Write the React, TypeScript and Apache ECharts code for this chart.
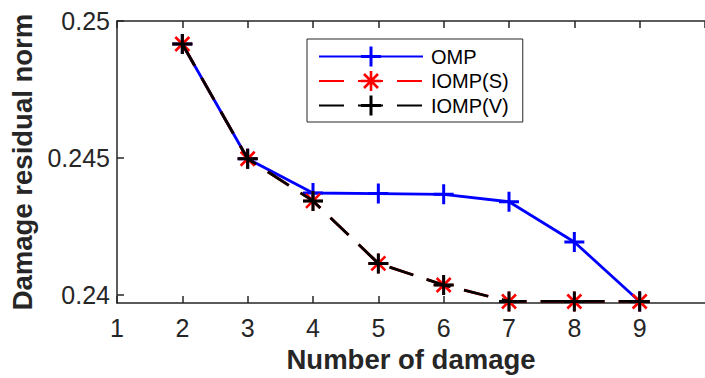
import React, { useEffect, useRef } from 'react';
import * as echarts from 'echarts';

// ---- data ----
const damageCounts = [2, 3, 4, 5, 6, 7, 8, 9];
const ompValues = [0.24916, 0.24497, 0.24372, 0.2437, 0.24367, 0.2434, 0.24193, 0.23976];
const iompSValues = [0.24916, 0.24497, 0.24343, 0.24115, 0.24036, 0.23976, 0.23976, 0.23976];
const iompVValues = [0.24916, 0.24497, 0.24343, 0.24115, 0.24036, 0.23976, 0.23976, 0.23976];
const seriesNames = ['OMP', 'IOMP(S)', 'IOMP(V)'];
const xTickLabels = ['1', '2', '3', '4', '5', '6', '7', '8', '9'];
const yTickValues = [0.24, 0.245, 0.25];
const yTickLabels = ['0.24', '0.245', '0.25'];

const PLUS = 'path://M8.5,0H11.5V8.5H20V11.5H11.5V20H8.5V11.5H0V8.5H8.5Z';
const STAR =
  'path://M0,8.7H20V11.3H0Z M8.7,0H11.3V20H8.7Z M2.081,3.919L3.919,2.081L17.919,16.081L16.081,17.919Z M2.081,16.081L16.081,2.081L17.919,3.919L3.919,17.919Z';

const AXIS = '#262626';
const FONT = 'Liberation Sans, Arial, sans-serif';

export default function App() {
  const ref = useRef<HTMLDivElement>(null);
  useEffect(() => {
    const chart = echarts.init(ref.current!, null, { renderer: 'svg' });
    const pairs = (vals: number[]) => damageCounts.map((x, i) => [x, vals[i]]);
    const dash = [25, 14];
    const option: any = {
      animation: false,
      backgroundColor: '#fff',
      grid: { left: 117, top: 21, width: 594, height: 285 },
      legend: {
        orient: 'vertical',
        left: 307,
        top: 39,
        itemWidth: 104,
        itemHeight: 25,
        itemGap: 4.5,
        padding: [7.5, 14, 6.5, 11],
        borderColor: AXIS,
        borderWidth: 1,
        backgroundColor: '#fff',
        textStyle: { fontSize: 20, fontFamily: FONT, color: '#000', padding: [0, 0, 0, 3] },
        data: seriesNames,
      },
      xAxis: [
        {
          type: 'value',
          min: 1,
          max: 10,
          interval: 1,
          name: 'Number of damage',
          nameLocation: 'middle',
          nameGap: 40,
          nameTextStyle: { fontSize: 27.5, fontWeight: 'bold', fontFamily: FONT, color: AXIS },
          axisLine: { show: true, onZero: false, lineStyle: { color: AXIS, width: 1.5 } },
          axisTick: { show: true, inside: true, length: 7, lineStyle: { color: AXIS, width: 1.5 } },
          axisLabel: {
            show: true,
            margin: 12,
            fontSize: 25,
            fontFamily: FONT,
            color: AXIS,
            showMaxLabel: false,
            formatter: (v: number) => xTickLabels[Math.round(v) - 1] ?? '',
          },
          splitLine: { show: false },
        },
        {
          type: 'value',
          position: 'top',
          min: 1,
          max: 10,
          interval: 1,
          axisLine: { show: true, onZero: false, lineStyle: { color: AXIS, width: 1.5 } },
          axisTick: { show: true, inside: true, length: 7, lineStyle: { color: AXIS, width: 1.5 } },
          axisLabel: { show: false },
          splitLine: { show: false },
        },
      ],
      yAxis: {
        type: 'value',
        min: 0.2397,
        max: 0.25,
        name: 'Damage residual norm',
        nameLocation: 'middle',
        nameGap: 80,
        nameTextStyle: { fontSize: 27.5, fontWeight: 'bold', fontFamily: FONT, color: AXIS },
        axisLine: { show: true, onZero: false, lineStyle: { color: AXIS, width: 1.5 } },
        axisTick: {
          show: true,
          inside: true,
          length: 7,
          customValues: yTickValues,
          lineStyle: { color: AXIS, width: 1.5 },
        },
        axisLabel: {
          show: true,
          margin: 7,
          fontSize: 25,
          fontFamily: FONT,
          color: AXIS,
          customValues: yTickValues,
          formatter: (v: number) => {
            const i = yTickValues.findIndex((t) => Math.abs(t - v) < 1e-7);
            return i >= 0 ? yTickLabels[i] : '';
          },
        },
        splitLine: { show: false },
      },
      series: [
        {
          name: seriesNames[0],
          type: 'line',
          data: pairs(ompValues),
          symbol: PLUS,
          symbolSize: 20,
          clip: false,
          lineStyle: { color: '#0000ff', width: 2.8, type: 'solid' },
          itemStyle: { color: '#0000ff', borderWidth: 0 },
          z: 3,
        },
        {
          name: seriesNames[1],
          type: 'line',
          data: pairs(iompSValues),
          symbol: STAR,
          symbolSize: 20,
          clip: false,
          lineStyle: { color: '#ff0000', width: 2.8, type: dash },
          itemStyle: { color: '#ff0000', borderWidth: 0 },
          z: 4,
        },
        {
          name: seriesNames[2],
          type: 'line',
          data: pairs(iompVValues),
          symbol: PLUS,
          symbolSize: 20,
          clip: false,
          lineStyle: { color: '#000000', width: 2.8, type: dash },
          itemStyle: { color: '#000000', borderWidth: 0 },
          z: 5,
        },
      ],
    };
    chart.setOption(option);
    return () => chart.dispose();
  }, []);
  return (
    <div
      ref={ref}
      style={{ position: 'fixed', left: 0, top: 0, width: 705, height: 378, background: '#fff' }}
    />
  );
}
